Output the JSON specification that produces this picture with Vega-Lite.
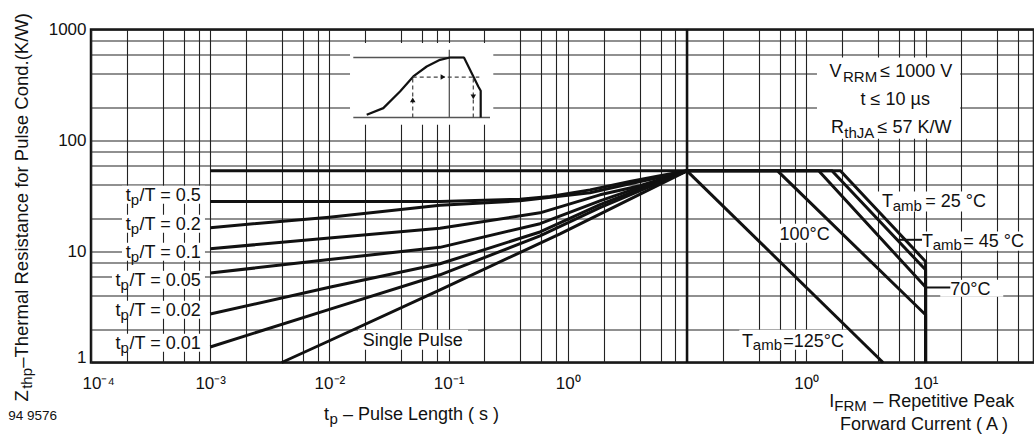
{
"$schema": "https://vega.github.io/schema/vega-lite/v6.json",
"width": 943, "height": 333,
"autosize": {"type": "none"},
"padding": {"left": 91, "top": 29.5, "right": 0, "bottom": 72.5},
"background": "white",
"config": {
  "font": "Liberation Sans",
  "view": {"stroke": "#111", "strokeWidth": 2.5},
  "axis": {"grid": true, "gridColor": "#222", "gridWidth": 1.1, "gridOpacity": 1, "ticks": false, "tickSize": 0, "domain": false, "labelFont": "Liberation Sans", "labelFontSize": 17, "labelColor": "#111", "labelOverlap": false}
},
"datasets": {
  "curvesL": [
    {"s":"DC","i":0,"x":0.001,"y":53.3},{"s":"DC","i":1,"x":10,"y":53.3},
    {"s":"D05","i":0,"x":0.001,"y":28.2},{"s":"D05","i":1,"x":0.0847,"y":28.2},{"s":"D05","i":2,"x":0.397,"y":29.6},{"s":"D05","i":3,"x":0.71,"y":31.3},{"s":"D05","i":4,"x":1.535,"y":35.9},{"s":"D05","i":5,"x":3.32,"y":42.7},{"s":"D05","i":6,"x":5.94,"y":48.1},{"s":"D05","i":7,"x":10,"y":53.3},
    {"s":"D02","i":0,"x":0.001,"y":16.4},{"s":"D02","i":1,"x":0.01,"y":20.4},{"s":"D02","i":2,"x":0.0847,"y":26.1},{"s":"D02","i":3,"x":0.397,"y":28.6},{"s":"D02","i":4,"x":1.535,"y":33.8},{"s":"D02","i":5,"x":3.32,"y":40.7},{"s":"D02","i":6,"x":5.94,"y":46.6},{"s":"D02","i":7,"x":10,"y":53.3},
    {"s":"D01","i":0,"x":0.001,"y":10.6},{"s":"D01","i":1,"x":0.01,"y":13.2},{"s":"D01","i":2,"x":0.0847,"y":16.2},{"s":"D01","i":3,"x":0.585,"y":22.3},{"s":"D01","i":4,"x":1.862,"y":32.4},{"s":"D01","i":5,"x":4.03,"y":39.1},{"s":"D01","i":6,"x":10,"y":53.3},
    {"s":"D005","i":0,"x":0.001,"y":6.39},{"s":"D005","i":1,"x":0.01,"y":8.47},{"s":"D005","i":2,"x":0.0847,"y":10.9},{"s":"D005","i":3,"x":0.585,"y":17.8},{"s":"D005","i":4,"x":1.862,"y":28.6},{"s":"D005","i":5,"x":10,"y":53.3},
    {"s":"D002","i":0,"x":0.001,"y":2.73},{"s":"D002","i":1,"x":0.01,"y":4.76},{"s":"D002","i":2,"x":0.0847,"y":7.75},{"s":"D002","i":3,"x":0.585,"y":15.0},{"s":"D002","i":4,"x":1.862,"y":26.4},{"s":"D002","i":5,"x":10,"y":53.3},
    {"s":"D001","i":0,"x":0.001,"y":1.38},{"s":"D001","i":1,"x":0.01,"y":3.01},{"s":"D001","i":2,"x":0.0847,"y":6.17},{"s":"D001","i":3,"x":0.585,"y":13.8},{"s":"D001","i":4,"x":1.862,"y":24.8},{"s":"D001","i":5,"x":10,"y":53.3},
    {"s":"SP","i":0,"x":0.00398,"y":1},{"s":"SP","i":1,"x":0.01,"y":1.57},{"s":"SP","i":2,"x":0.0847,"y":4.52},{"s":"SP","i":3,"x":0.861,"y":14.4},{"s":"SP","i":4,"x":10,"y":53.3}
  ],
  "curvesR": [
    {"s":"T25","i":0,"x":0.1,"y":53.3},{"s":"T25","i":1,"x":1.93,"y":53.3},{"s":"T25","i":2,"x":10,"y":8.13},{"s":"T25","i":3,"x":10,"y":1},
    {"s":"T45","i":0,"x":0.1,"y":53.3},{"s":"T45","i":1,"x":1.64,"y":53.3},{"s":"T45","i":2,"x":10,"y":6.84},{"s":"T45","i":3,"x":10,"y":1},
    {"s":"T70","i":0,"x":0.1,"y":53.3},{"s":"T70","i":1,"x":1.27,"y":53.3},{"s":"T70","i":2,"x":10,"y":4.78},{"s":"T70","i":3,"x":10,"y":1},
    {"s":"T100","i":0,"x":0.1,"y":53.3},{"s":"T100","i":1,"x":0.574,"y":53.3},{"s":"T100","i":2,"x":10,"y":2.69},{"s":"T100","i":3,"x":10,"y":1},
    {"s":"T125","i":0,"x":0.1,"y":53.3},{"s":"T125","i":1,"x":4.4,"y":1}
  ],
  "divider": [{"x": 10, "y": 1, "y2": 1000}],
  "boxesL": [
    {"x":0.000182,"x2":0.000904,"y":26.9,"y2":39.1},
    {"x":0.000182,"x2":0.000904,"y":14.74,"y2":21.41},
    {"x":0.000182,"x2":0.000904,"y":8.25,"y2":11.98},
    {"x":0.00015,"x2":0.000904,"y":4.61,"y2":6.70},
    {"x":0.00015,"x2":0.000904,"y":2.476,"y2":3.596},
    {"x":0.00015,"x2":0.000904,"y":1.248,"y2":1.814},
    {"x":0.01738,"x2":0.1455,"y":1.301,"y2":1.971},
    {"x":0.01489,"x2":0.2371,"y":138.5,"y2":754}
  ],
  "insetThin": [
    {"s":"top","i":0,"x":0.01587,"y":559.4},{"s":"top","i":1,"x":0.1346,"y":559.4},
    {"s":"base","i":0,"x":0.01587,"y":161.2},{"s":"base","i":1,"x":0.2225,"y":161.2},
    {"s":"vert","i":0,"x":0.1014,"y":161.2},{"s":"vert","i":1,"x":0.1014,"y":656.5}
  ],
  "insetCurve": [
    {"s":"c","i":0,"x":0.02056,"y":170.4},{"s":"c","i":1,"x":0.02833,"y":195.8},{"s":"c","i":2,"x":0.03912,"y":276.3},{"s":"c","i":3,"x":0.05058,"y":377.3},{"s":"c","i":4,"x":0.06551,"y":464.2},{"s":"c","i":5,"x":0.08474,"y":533.3},{"s":"c","i":6,"x":0.1027,"y":559.4},{"s":"c","i":7,"x":0.1346,"y":559.4},{"s":"c","i":8,"x":0.1775,"y":306.6},{"s":"c","i":9,"x":0.1859,"y":280.4},{"s":"c","i":10,"x":0.1859,"y":161.2}
  ],
  "insetDash": [
    {"s":"h","i":0,"x":0.05,"y":372.6},{"s":"h","i":1,"x":0.181,"y":372.6},
    {"s":"l","i":0,"x":0.05,"y":161.2},{"s":"l","i":1,"x":0.05,"y":372.6},
    {"s":"r","i":0,"x":0.1611,"y":161.2},{"s":"r","i":1,"x":0.1611,"y":372.6}
  ],
  "insetArrows": [
    {"x":0.08974,"y":372.6,"d":"right"},
    {"x":0.05,"y":232.6,"d":"up"},
    {"x":0.1611,"y":247.6,"d":"down"}
  ],
  "textL": [
    {"x":0.0001954,"y":28.6,"t":"t"},{"x":0.0002552,"y":28.6,"t":"/T = 0.5"},
    {"x":0.0001954,"y":15.69,"t":"t"},{"x":0.0002552,"y":15.69,"t":"/T = 0.2"},
    {"x":0.0001954,"y":8.77,"t":"t"},{"x":0.0002552,"y":8.77,"t":"/T = 0.1"},
    {"x":0.0001608,"y":4.91,"t":"t"},{"x":0.0002104,"y":4.91,"t":"/T = 0.05"},
    {"x":0.0001608,"y":2.634,"t":"t"},{"x":0.0002104,"y":2.634,"t":"/T = 0.02"},
    {"x":0.0001608,"y":1.328,"t":"t"},{"x":0.0002104,"y":1.328,"t":"/T = 0.01"},
    {"x":0.009009,"y":0.3047,"t":"t"},{"x":0.013,"y":0.3047,"t":"– Pulse Length ( s )"}
  ],
  "subL": [
    {"x":0.0002153,"y":26.35,"t":"p"},
    {"x":0.0002153,"y":14.44,"t":"p"},
    {"x":0.0002153,"y":8.08,"t":"p"},
    {"x":0.0001771,"y":4.52,"t":"p"},
    {"x":0.0001771,"y":2.425,"t":"p"},
    {"x":0.0001771,"y":1.223,"t":"p"},
    {"x":0.01002,"y":0.2804,"t":"p"}
  ],
  "centerL": [{"x":0.0501,"y":1.414,"t":"Single Pulse"}],
  "smallL": [{"x":0.00002023,"y":0.3047,"t":"94 9576"}],
  "ytitle": [
    {"x":0.0000298,"y":0.4453,"t":"Z"},
    {"x":0.0000298,"y":0.896,"t":"–Thermal Resistance for Pulse Cond.(K/W)"}
  ],
  "ytitleSub": [{"x":0.00003218,"y":0.5795,"t":"thp"}],
  "boxesR": [
    {"x":1.229,"x2":19.5,"y":103.5,"y2":560},
    {"x":3.862,"x2":34.85,"y":22.93,"y2":34.71},
    {"x":9.03,"x2":68.5,"y":10.15,"y2":15.14},
    {"x":13.28,"x2":44.8,"y":3.91,"y2":5.56},
    {"x":0.5605,"x2":1.652,"y":11.98,"y2":17.77},
    {"x":0.2745,"x2":2.3,"y":1.301,"y2":1.971}
  ],
  "leadersR": [
    {"x":5.94,"x2":9.33,"y":12.75},
    {"x":10.14,"x2":16.11,"y":4.74}
  ],
  "textR": [
    {"x":1.568,"y":377,"t":"V"},{"x":4.17,"y":377,"t":"≤ 1000 V"},
    {"x":1.611,"y":116.6,"t":"R"},{"x":3.96,"y":116.6,"t":"≤ 57 K/W"},
    {"x":4.31,"y":25.43,"t":"T"},{"x":9.94,"y":25.43,"t":"= 25 °C"},
    {"x":9.33,"y":11.09,"t":"T"},{"x":20.7,"y":11.09,"t":"= 45 °C"},
    {"x":16.11,"y":4.07,"t":"70°C"},
    {"x":0.5973,"y":12.75,"t":"100°C"},
    {"x":0.2891,"y":1.393,"t":"T"},{"x":0.6415,"y":1.393,"t":"=125°C"},
    {"x":1.559,"y":0.395,"t":"I"},{"x":3.644,"y":0.395,"t":"– Repetitive Peak"}
  ],
  "subR": [
    {"x":2.03,"y":340,"t":"RRM"},
    {"x":2.082,"y":105.8,"t":"thJA"},
    {"x":5.31,"y":23.4,"t":"amb"},
    {"x":11.49,"y":10.21,"t":"amb"},
    {"x":0.3561,"y":1.283,"t":"amb"},
    {"x":1.717,"y":0.363,"t":"FRM"}
  ],
  "centerR": [
    {"x":5.57,"y":209.7,"t":"t ≤ 10 µs"},
    {"x":9.696,"y":0.2475,"t":"Forward Current ( A )"}
  ]
},
"layer": [
  {
    "encoding": {
      "x": {"field": "x", "type": "quantitative",
        "scale": {"type": "log", "domain": [0.0001, 10], "range": [0, 596]},
        "axis": {"orient": "bottom", "title": null, "grid": true,
          "values": [0.0001,0.0002,0.0004,0.0006,0.0008,0.001,0.002,0.004,0.006,0.008,0.01,0.02,0.04,0.06,0.08,0.1,0.2,0.4,0.6,0.8,1,2,4,6,8,10],
          "labelExpr": "datum.value == 0.0001 ? '10⁻⁴' : datum.value == 0.001 ? '10⁻³' : datum.value == 0.01 ? '10⁻²' : datum.value == 0.1 ? '10⁻¹' : datum.value == 1 ? '10⁰' : ''",
          "labelFlush": true, "labelFlushOffset": 9,
          "labelPadding": 13}},
      "y": {"field": "y", "type": "quantitative",
        "scale": {"type": "log", "domain": [1, 1000]},
        "axis": {"title": null, "orient": "left", "grid": true,
          "values": [1,2,4,6,8,10,20,40,60,80,100,200,400,600,800,1000],
          "labelExpr": "datum.value == 1 ? '1' : datum.value == 10 ? '10' : datum.value == 100 ? '100' : datum.value == 1000 ? '1000' : ''",
          "labelPadding": 5,
          "labelBaseline": {"condition": {"test": "datum.value == 1", "value": "alphabetic"}, "value": "middle"}}}
    },
    "layer": [
      {"data": {"name": "boxesL"}, "mark": {"type": "rect", "fill": "white", "clip": false}, "encoding": {"x2": {"field": "x2"}, "y2": {"field": "y2"}}},
      {"data": {"name": "divider"}, "mark": {"type": "rule", "color": "#111", "strokeWidth": 2.5}, "encoding": {"y2": {"field": "y2"}}},
      {"data": {"name": "curvesL"}, "mark": {"type": "line", "color": "#111", "strokeWidth": 3, "strokeJoin": "round"}, "encoding": {"detail": {"field": "s"}, "order": {"field": "i"}}},
      {"data": {"name": "insetThin"}, "mark": {"type": "line", "color": "#555", "strokeWidth": 1.3}, "encoding": {"detail": {"field": "s"}, "order": {"field": "i"}}},
      {"data": {"name": "insetCurve"}, "mark": {"type": "line", "color": "#111", "strokeWidth": 2.2, "strokeJoin": "round"}, "encoding": {"detail": {"field": "s"}, "order": {"field": "i"}}},
      {"data": {"name": "insetDash"}, "mark": {"type": "line", "color": "#444", "strokeWidth": 1.2, "strokeDash": [4, 3]}, "encoding": {"detail": {"field": "s"}, "order": {"field": "i"}}},
      {"data": {"name": "insetArrows"}, "mark": {"type": "point", "filled": true, "color": "#111", "size": 30, "opacity": 1}, "encoding": {"shape": {"field": "d", "type": "nominal", "scale": {"domain": ["up", "down", "right"], "range": ["triangle-up", "triangle-down", "triangle-right"]}, "legend": null}}},
      {"data": {"name": "textL"}, "mark": {"type": "text", "align": "left", "baseline": "alphabetic", "fontSize": 18, "color": "#111", "clip": false}, "encoding": {"text": {"field": "t", "type": "nominal"}}},
      {"data": {"name": "subL"}, "mark": {"type": "text", "align": "left", "baseline": "alphabetic", "fontSize": 15, "color": "#111", "clip": false}, "encoding": {"text": {"field": "t", "type": "nominal"}}},
      {"data": {"name": "centerL"}, "mark": {"type": "text", "align": "center", "baseline": "alphabetic", "fontSize": 18, "color": "#111"}, "encoding": {"text": {"field": "t", "type": "nominal"}}},
      {"data": {"name": "smallL"}, "mark": {"type": "text", "align": "left", "baseline": "alphabetic", "fontSize": 13.5, "color": "#111", "clip": false}, "encoding": {"text": {"field": "t", "type": "nominal"}}},
      {"data": {"name": "ytitle"}, "mark": {"type": "text", "align": "left", "baseline": "alphabetic", "angle": 270, "fontSize": 18.5, "color": "#111", "clip": false}, "encoding": {"text": {"field": "t", "type": "nominal"}}},
      {"data": {"name": "ytitleSub"}, "mark": {"type": "text", "align": "left", "baseline": "alphabetic", "angle": 270, "fontSize": 15, "color": "#111", "clip": false}, "encoding": {"text": {"field": "t", "type": "nominal"}}}
    ]
  },
  {
    "encoding": {
      "x": {"field": "x", "type": "quantitative",
        "scale": {"type": "log", "domain": [0.1, 81.1], "range": [596, 943]},
        "axis": {"orient": "bottom", "title": null, "grid": true,
          "values": [0.1,0.2,0.4,0.6,0.8,1,2,4,6,8,10,20,40,60,80],
          "labelExpr": "datum.value == 1 ? '10⁰' : datum.value == 10 ? '10¹' : ''",
          "labelPadding": 13}},
      "y": {"field": "y", "type": "quantitative",
        "scale": {"type": "log", "domain": [1, 1000]},
        "axis": {"title": null, "orient": "left", "labels": false, "grid": true,
          "values": [1,2,4,6,8,10,20,40,60,80,100,200,400,600,800,1000]}}
    },
    "layer": [
      {"data": {"name": "boxesR"}, "mark": {"type": "rect", "fill": "white"}, "encoding": {"x2": {"field": "x2"}, "y2": {"field": "y2"}}},
      {"data": {"name": "curvesR"}, "mark": {"type": "line", "color": "#111", "strokeWidth": 3, "strokeJoin": "miter"}, "encoding": {"detail": {"field": "s"}, "order": {"field": "i"}}},
      {"data": {"name": "leadersR"}, "mark": {"type": "rule", "color": "#111", "strokeWidth": 2}, "encoding": {"x2": {"field": "x2"}}},
      {"data": {"name": "textR"}, "mark": {"type": "text", "align": "left", "baseline": "alphabetic", "fontSize": 18, "color": "#111", "clip": false}, "encoding": {"text": {"field": "t", "type": "nominal"}}},
      {"data": {"name": "subR"}, "mark": {"type": "text", "align": "left", "baseline": "alphabetic", "fontSize": 15, "color": "#111", "clip": false}, "encoding": {"text": {"field": "t", "type": "nominal"}}},
      {"data": {"name": "centerR"}, "mark": {"type": "text", "align": "center", "baseline": "alphabetic", "fontSize": 18, "color": "#111", "clip": false}, "encoding": {"text": {"field": "t", "type": "nominal"}}}
    ]
  }
],
"resolve": {"scale": {"x": "independent", "y": "independent"}, "axis": {"x": "independent", "y": "independent"}}
}
